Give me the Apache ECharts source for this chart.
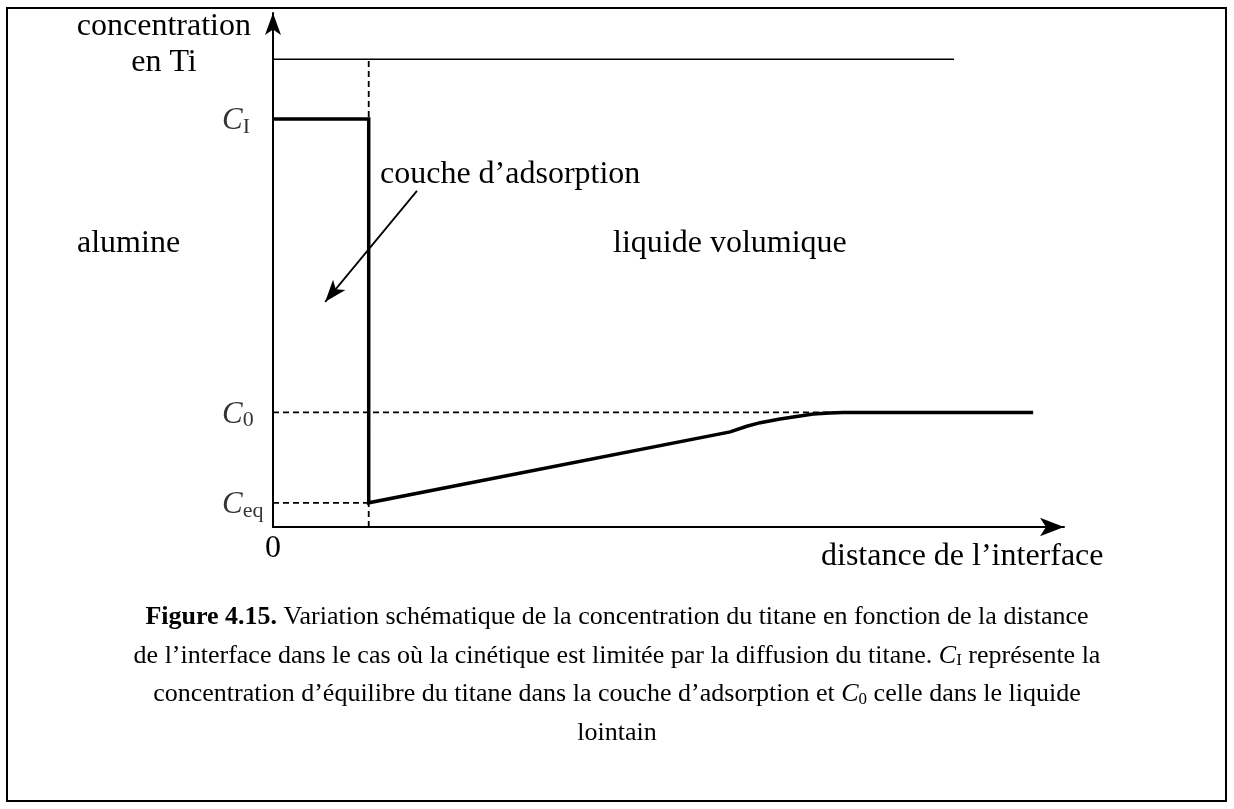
<!DOCTYPE html>
<html>
<head>
<meta charset="utf-8">
<script src="https://cdn.jsdelivr.net/npm/echarts@6/dist/echarts.min.js"></script>
<style>
  html, body { margin: 0; padding: 0; background: #fff; }
  #chart { width: 1234px; height: 809px; }
</style>
</head>
<body>
<div id="chart"></div>
<script>
// Schematic titanium concentration profile versus distance from the interface (arbitrary units 0..100)
const interfaceX = 12.1;          // thickness of the adsorption layer
const topLineEnd = 86.1;          // extent of the upper reference line and of the C0 guide
const levelTop = 91.0;            // upper reference line
const levelCI = 79.4;             // C_I
const levelC0 = 22.3;             // C_0
const levelCeq = 4.7;             // C_eq

// Profile: plateau C_I in the adsorption layer, drop to C_eq, then diffusion towards C_0
const profileX = [0, 12.1, 12.1, 57.8, 59.9, 61.6, 64.1, 66.2, 68.3, 70.4, 72.1, 96.1];
const profileY = [79.4, 79.4, 4.7, 18.5, 19.6, 20.3, 21.0, 21.5, 22.0, 22.2, 22.3, 22.3];

// Level labels on the concentration axis
const levelValues = [levelCI, levelC0, levelCeq];
const levelSubs = ['I', '0', 'eq'];

// Pointer for "couche d'adsorption"
const pointerFrom = [18.2, 65.4];
const pointerTo = [6.6, 43.8];

const FONT = '"Liberation Serif", "Times New Roman", serif';
const ink = '#000';

const chart = echarts.init(document.getElementById('chart'), null, { renderer: 'canvas' });

const dashed = { color: ink, width: 1.8, type: [6, 4] };

const option = {
  backgroundColor: '#fff',
  animation: false,
  grid: { left: 273, right: 170, top: 13, bottom: 282, containLabel: false, outerBoundsMode: 'none' },
  xAxis: {
    type: 'value', min: 0, max: 100, interval: 100,
    axisLine: { show: true, symbol: ['none', 'arrow'], symbolSize: [14, 24], lineStyle: { color: ink, width: 2 } },
    axisTick: { show: false },
    splitLine: { show: false },
    axisLabel: {
      show: true, margin: 6,
      formatter: v => (v === 0 ? '0' : ''),
      fontFamily: FONT, fontSize: 32, color: ink
    }
  },
  yAxis: {
    type: 'value', min: 0, max: 100,
    axisLine: { show: true, symbol: ['none', 'arrow'], symbolSize: [12, 22], lineStyle: { color: ink, width: 2 } },
    axisTick: { show: false },
    splitLine: { show: false },
    axisLabel: { show: false }
  },
  title: {
    left: 'center', top: 593,
    text:
      '{b|Figure 4.15.} Variation schématique de la concentration du titane en fonction de la distance\n' +
      'de l’interface dans le cas où la cinétique est limitée par la diffusion du titane. {i|C}{s|I} représente la\n' +
      'concentration d’équilibre du titane dans la couche d’adsorption et {i|C}{s|0} celle dans le liquide\n' +
      'lointain',
    textStyle: {
      fontFamily: FONT, fontSize: 26, fontWeight: 'normal', color: ink, lineHeight: 38.5,
      rich: {
        b: { fontFamily: FONT, fontSize: 26, fontWeight: 'bold', color: ink, lineHeight: 38.5 },
        i: { fontFamily: FONT, fontSize: 26, fontStyle: 'italic', color: ink, lineHeight: 38.5 },
        s: { fontFamily: FONT, fontSize: 17, color: ink, lineHeight: 18, padding: [10, 0, 0, 0] }
      }
    }
  },
  series: [
    {
      name: 'profil', type: 'line', symbol: 'none', z: 5,
      lineStyle: { color: ink, width: 3.5, cap: 'butt', join: 'miter' },
      data: profileX.map((x, i) => [x, profileY[i]])
    },
    {
      name: 'reference', type: 'line', symbol: 'none', z: 3,
      lineStyle: { color: ink, width: 1.6 },
      data: [[0, levelTop], [topLineEnd, levelTop]]
    },
    {
      name: 'guideC0', type: 'line', symbol: 'none', z: 2,
      lineStyle: dashed,
      data: [[0, levelC0], [topLineEnd, levelC0]]
    },
    {
      name: 'guideCeq', type: 'line', symbol: 'none', z: 2,
      lineStyle: dashed,
      data: [[0, levelCeq], [interfaceX, levelCeq]]
    },
    {
      name: 'guideInterface', type: 'line', symbol: 'none', z: 2,
      lineStyle: dashed,
      data: [[interfaceX, 0], [interfaceX, levelTop]],
      markLine: {
        silent: true,
        symbol: ['none', 'arrow'],
        symbolSize: [12, 22],
        lineStyle: { color: ink, width: 1.8, type: 'solid' },
        label: { show: false },
        data: [[{ coord: pointerFrom }, { coord: pointerTo }]]
      }
    },
    {
      name: 'niveaux', type: 'scatter', symbolSize: 0, z: 6,
      data: levelValues.map(v => [0, v]),
      label: {
        show: true, position: 'inside', align: 'left', offset: [-51, 2],
        formatter: p => '{c|C}{s|' + levelSubs[p.dataIndex] + '}',
        rich: {
          c: { fontFamily: FONT, fontSize: 31, fontStyle: 'italic', color: ink, lineHeight: 34 },
          s: { fontFamily: FONT, fontSize: 22, color: ink, lineHeight: 22, padding: [12, 0, 0, 0] }
        }
      }
    }
  ],
  graphic: [
    { type: 'rect', silent: true, shape: { x: 7, y: 8, width: 1219, height: 793 },
      style: { fill: 'none', stroke: ink, lineWidth: 2 } },
    { type: 'text', silent: true,
      style: { text: 'concentration', x: 251, y: 27, font: '32px ' + FONT, fill: ink, align: 'right', verticalAlign: 'middle' } },
    { type: 'text', silent: true,
      style: { text: 'en Ti', x: 164, y: 63, font: '32px ' + FONT, fill: ink, align: 'center', verticalAlign: 'middle' } },
    { type: 'text', silent: true,
      style: { text: 'alumine', x: 77, y: 244, font: '32px ' + FONT, fill: ink, align: 'left', verticalAlign: 'middle' } },
    { type: 'text', silent: true,
      style: { text: 'liquide volumique', x: 613, y: 244, font: '32px ' + FONT, fill: ink, align: 'left', verticalAlign: 'middle' } },
    { type: 'text', silent: true,
      style: { text: 'couche d’adsorption', x: 380, y: 175, font: '32px ' + FONT, fill: ink, align: 'left', verticalAlign: 'middle' } },
    { type: 'text', silent: true,
      style: { text: 'distance de l’interface', x: 821, y: 557, font: '32px ' + FONT, fill: ink, align: 'left', verticalAlign: 'middle' } }
  ]
};

chart.setOption(option);
</script>
</body>
</html>
